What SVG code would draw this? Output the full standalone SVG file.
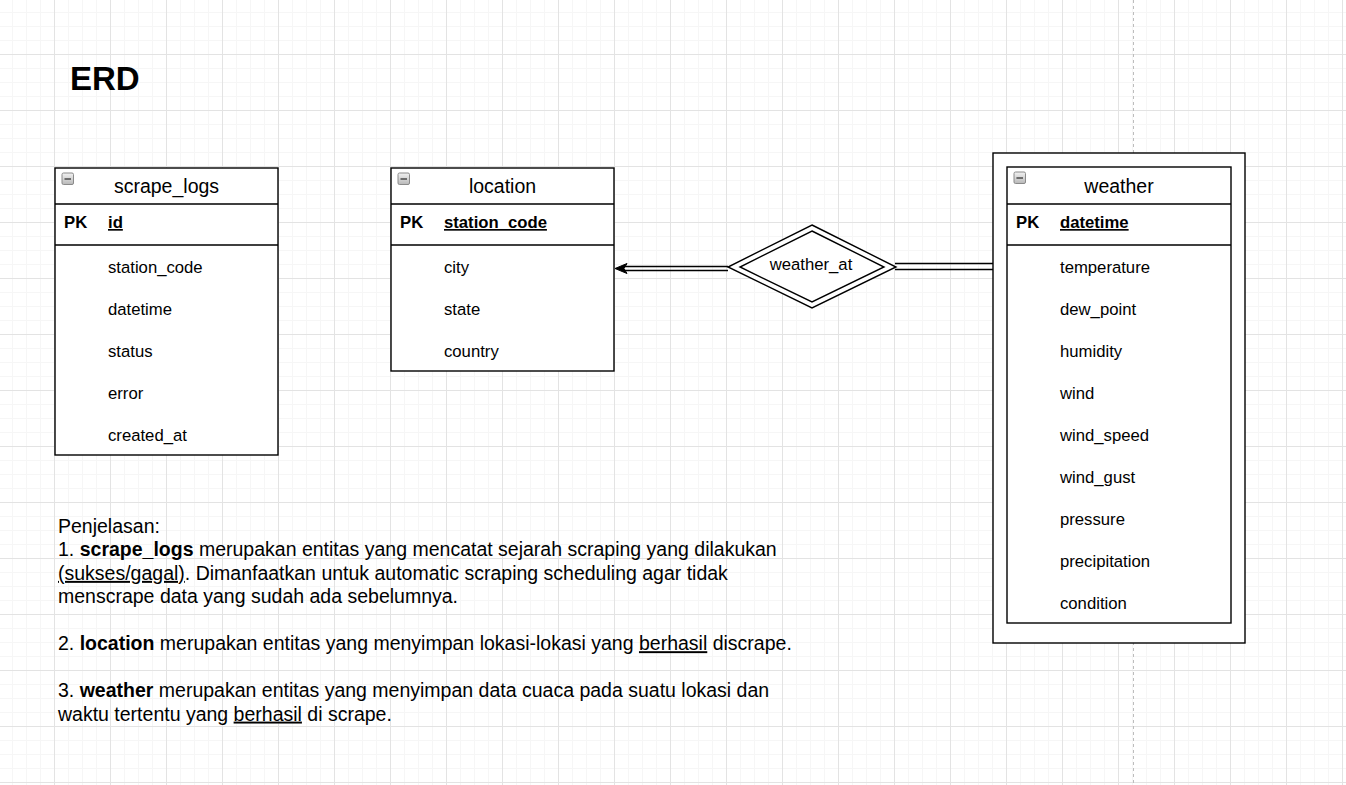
<svg xmlns="http://www.w3.org/2000/svg" width="1346" height="785" viewBox="0 0 1346 785">
<defs>
<pattern id="grid" x="54" y="54" width="56" height="56" patternUnits="userSpaceOnUse">
<path d="M14.5 0V56M28.5 0V56M42.5 0V56M0 14.5H56M0 28.5H56M0 42.5H56" stroke="#f6f6f6" stroke-width="1" fill="none"/>
<path d="M0.5 0V56M0 0.5H56" stroke="#e3e3e3" stroke-width="1" fill="none"/>
</pattern>
<linearGradient id="btn" x1="0" y1="0" x2="0" y2="1">
<stop offset="0" stop-color="#f2f2f2"/>
<stop offset="1" stop-color="#b8b8b8"/>
</linearGradient>
<g id="minus">
<rect x="0.5" y="0.5" width="11.5" height="11.5" rx="1.5" fill="url(#btn)" stroke="#8a8a8a" stroke-width="1"/>
<path d="M3 6.5H9.5" stroke="#333" stroke-width="1.3"/>
</g>
</defs>
<style>
.box{fill:#fff;stroke:#000;stroke-width:1.4}
.sep{stroke:#000;stroke-width:1.4;fill:none}
.t{font-family:"Liberation Sans",Arial,sans-serif;fill:#000}
.title{font-size:19.5px;text-anchor:middle}
.attr{font-size:16.7px}
.pk{font-size:16.7px;font-weight:bold}
.pkname{font-size:16.7px;font-weight:bold;text-decoration:underline}
.body{font-size:19.5px}
.b{font-weight:bold}
.u{text-decoration:underline}
.link{stroke:#000;stroke-width:1.4;fill:none}
</style>
<rect width="1346" height="785" fill="#fff"/>
<rect width="1346" height="785" fill="url(#grid)"/>
<path d="M1133.5 0V785" stroke="#bdbdbd" stroke-width="1" stroke-dasharray="3 3"/>

<text class="t" x="70" y="90" font-size="33" font-weight="bold">ERD</text>

<g id="connectors">
<path class="link" d="M728 266.5H624M728 270.5H624"/>
<path d="M615 268.5L627 263.5L624 268.5L627 273.5Z" fill="#000" stroke="#000" stroke-width="1"/>
<path class="link" d="M895 263.5H993M895 269.5H993"/>
</g>

<g id="scrape_logs">
<rect class="box" x="55" y="168" width="223" height="287"/>
<path class="sep" d="M55 204H278M55 245H278"/>
<use href="#minus" x="61.5" y="172.5"/>
<text class="t title" x="166.5" y="193">scrape_logs</text>
<text class="t pk" x="64" y="228">PK</text>
<text class="t pkname" x="108" y="228">id</text>
<text class="t attr" x="108" y="273">station_code</text>
<text class="t attr" x="108" y="315">datetime</text>
<text class="t attr" x="108" y="357">status</text>
<text class="t attr" x="108" y="399">error</text>
<text class="t attr" x="108" y="441">created_at</text>
</g>

<g id="location">
<rect class="box" x="391" y="168" width="223" height="203"/>
<path class="sep" d="M391 204H614M391 245H614"/>
<use href="#minus" x="397.5" y="172.5"/>
<text class="t title" x="502.5" y="193">location</text>
<text class="t pk" x="400" y="228">PK</text>
<text class="t pkname" x="444" y="228">station_code</text>
<text class="t attr" x="444" y="273">city</text>
<text class="t attr" x="444" y="315">state</text>
<text class="t attr" x="444" y="357">country</text>
</g>

<g id="weather_at">
<polygon points="812,225 896,267 812,308 728,267" fill="#fff" stroke="#000" stroke-width="1.4"/>
<polygon points="812,231 884,267 812,302 740,267" fill="#fff" stroke="#000" stroke-width="1.4"/>
<text class="t attr" x="811" y="270" text-anchor="middle">weather_at</text>
</g>

<g id="weather">
<rect class="box" x="993" y="153" width="252" height="490"/>
<rect class="box" x="1007" y="167" width="224" height="456"/>
<path class="sep" d="M1007 204H1231M1007 245H1231"/>
<use href="#minus" x="1013.5" y="171.5"/>
<text class="t title" x="1119" y="192.5">weather</text>
<text class="t pk" x="1016" y="228">PK</text>
<text class="t pkname" x="1060" y="228">datetime</text>
<text class="t attr" x="1060" y="273">temperature</text>
<text class="t attr" x="1060" y="315">dew_point</text>
<text class="t attr" x="1060" y="357">humidity</text>
<text class="t attr" x="1060" y="399">wind</text>
<text class="t attr" x="1060" y="441">wind_speed</text>
<text class="t attr" x="1060" y="483">wind_gust</text>
<text class="t attr" x="1060" y="525">pressure</text>
<text class="t attr" x="1060" y="567">precipitation</text>
<text class="t attr" x="1060" y="609">condition</text>
</g>

<g id="penjelasan">
<text class="t body" x="58" y="533">Penjelasan:</text>
<text class="t body" x="58" y="556.4">1. <tspan class="b">scrape_logs</tspan> merupakan entitas yang mencatat sejarah scraping yang dilakukan</text>
<text class="t body" x="58" y="579.9"><tspan class="u">(sukses/gagal)</tspan>. Dimanfaatkan untuk automatic scraping scheduling agar tidak</text>
<text class="t body" x="58" y="603.3">menscrape data yang sudah ada sebelumnya.</text>
<text class="t body" x="58" y="650.2">2. <tspan class="b">location</tspan> merupakan entitas yang menyimpan lokasi-lokasi yang <tspan class="u">berhasil</tspan> discrape.</text>
<text class="t body" x="58" y="697.1">3. <tspan class="b">weather</tspan> merupakan entitas yang menyimpan data cuaca pada suatu lokasi dan</text>
<text class="t body" x="58" y="720.6">waktu tertentu yang <tspan class="u">berhasil</tspan> di scrape.</text>
</g>
</svg>
